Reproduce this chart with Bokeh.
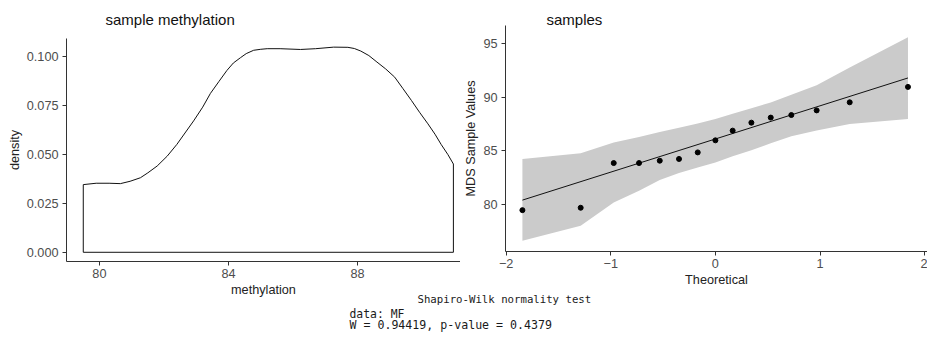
from bokeh.plotting import figure
from bokeh.layouts import row, column
from bokeh.models import Range1d, FixedTicker, NumeralTickFormatter, ColumnDataSource
from bokeh.core.properties import value
from bokeh.embed import file_html
from bokeh.resources import INLINE

# ---------------- data ----------------
# left panel: kernel density of methylation
dens_x = [79.5, 79.9, 80.3, 80.65, 80.95, 81.27, 81.5, 81.79, 82.1, 82.4, 82.92, 83.2,
          83.44, 83.7, 83.95, 84.15, 84.37, 84.55, 84.78, 85.0, 85.2, 85.6, 86.23, 86.7,
          87.26, 87.7, 87.9, 88.1, 88.35, 88.6, 88.87, 89.15, 89.4, 89.67, 89.92, 90.18,
          90.4, 90.59, 90.8, 90.97]
dens_y = [0.0345, 0.0352, 0.0352, 0.035, 0.0362, 0.038, 0.0405, 0.044, 0.049, 0.055, 0.067,
          0.074, 0.081, 0.087, 0.0927, 0.0965, 0.0992, 0.1013, 0.103, 0.1035, 0.1038, 0.1038,
          0.1034, 0.1038, 0.1046, 0.1045, 0.1039, 0.1026, 0.1003, 0.097, 0.0935, 0.0893,
          0.0836, 0.0774, 0.0714, 0.0655, 0.0602, 0.055, 0.0498, 0.045]
left_xticks = [80, 84, 88]
left_yticks = [0.0, 0.025, 0.05, 0.075, 0.1]

# right panel: QQ plot
theo = [-1.845, -1.288, -0.972, -0.73, -0.532, -0.348, -0.169, 0.0, 0.165, 0.344,
        0.529, 0.726, 0.968, 1.284, 1.841]
sample = [79.5, 79.72, 83.87, 83.87, 84.09, 84.25, 84.86, 85.98, 86.88, 87.62,
          88.09, 88.33, 88.76, 89.51, 90.94]
band_upper = [84.25, 84.77, 85.79, 86.3, 86.75, 87.15, 87.55, 87.96, 88.45, 88.95,
              89.5, 90.2, 91.1, 92.75, 95.55]
band_lower = [76.65, 78.05, 80.21, 81.3, 82.3, 82.95, 83.45, 83.93, 84.5, 85.05,
              85.7, 86.35, 86.9, 87.5, 87.96]
line_x = [-1.845, 1.841]
line_y = [80.43, 91.77]
right_xticks = [-2, -1, 0, 1, 2]
right_yticks = [80, 85, 90, 95]

titles = ["sample methylation", "samples"]
test_lines = ["Shapiro-Wilk normality test", "data: MF", "W = 0.94419, p-value = 0.4379"]

# ---------------- styling helpers ----------------
FONT = "Liberation Sans"
TICK_COL = "#4d4d4d"
LAB_COL = "#222222"


def style(p, xlab, ylab):
    p.xgrid.visible = False
    p.ygrid.visible = False
    p.outline_line_color = None
    p.background_fill_alpha = 0
    p.border_fill_alpha = 0
    for ax in (p.xaxis[0], p.yaxis[0]):
        ax.axis_line_color = "#333333"
        ax.axis_line_width = 1
        ax.major_tick_line_color = "#333333"
        ax.major_tick_in = 0
        ax.major_tick_out = 4
        ax.minor_tick_line_color = None
        ax.major_label_text_font = FONT
        ax.major_label_text_font_size = "12.7px"
        ax.major_label_text_color = TICK_COL
        ax.axis_label_text_font = FONT
        ax.axis_label_text_font_size = "12.7px"
        ax.axis_label_text_font_style = "normal"
        ax.axis_label_text_color = LAB_COL
    p.xaxis.axis_label = xlab
    p.yaxis.axis_label = ylab
    p.xaxis.major_label_standoff = 3
    p.xaxis.axis_label_standoff = 2
    p.yaxis.major_label_standoff = 4
    p.yaxis.axis_label_standoff = 2


def text_strip(width, height, margin):
    s = figure(width=width, height=height, output_backend="svg", toolbar_location=None,
               x_range=Range1d(0, width), y_range=Range1d(height, 0),
               min_border=0, margin=margin)
    s.axis.visible = False
    s.xgrid.visible = False
    s.ygrid.visible = False
    s.outline_line_color = None
    s.background_fill_alpha = 0
    s.border_fill_alpha = 0
    return s


# ---------------- top: panel titles ----------------
p0 = text_strip(927, 40, (0, 0, 0, 0))
tsrc = ColumnDataSource(dict(x=[105, 546], y=[19, 19], t=titles))
p0.text(x="x", y="y", text="t", source=tsrc, text_font=value(FONT), text_font_size="15px",
        text_baseline="middle", text_align="left", text_color="#111111")

# ---------------- left: density ----------------
p1 = figure(width=460, height=311, output_backend="svg", toolbar_location=None,
            x_range=Range1d(78.98, 91.19), y_range=Range1d(-0.0047, 0.109),
            min_border_left=66, min_border_right=0, min_border_top=38, min_border_bottom=50)
poly_x = [dens_x[0]] + dens_x + [dens_x[-1]]
poly_y = [0.0] + dens_y + [0.0]
p1.patch(poly_x, poly_y, fill_alpha=0, line_color="#111111", line_width=1)
style(p1, "methylation", "density")
p1.xaxis.ticker = FixedTicker(ticks=left_xticks)
p1.yaxis.ticker = FixedTicker(ticks=left_yticks)
p1.yaxis.formatter = NumeralTickFormatter(format="0.000")

# ---------------- right: QQ plot ----------------
p2 = figure(width=467, height=311, output_backend="svg", toolbar_location=None,
            x_range=Range1d(-2.0067, 2.0277), y_range=Range1d(75.66, 96.64),
            min_border_left=45, min_border_right=0, min_border_top=25, min_border_bottom=60)
p2.varea(x=theo, y1=band_lower, y2=band_upper, fill_color="#cbcbcb", fill_alpha=1)
p2.line(line_x, line_y, line_color="#111111", line_width=1)
p2.scatter(theo, sample, size=5, fill_color="black", line_color="black")
style(p2, "Theoretical", "MDS Sample Values")
p2.xaxis.ticker = FixedTicker(ticks=right_xticks)
p2.yaxis.ticker = FixedTicker(ticks=right_yticks)

# ---------------- bottom: test output text ----------------
p3 = text_strip(927, 54, (-21, 0, 0, 0))
src = ColumnDataSource(dict(x=[417, 349, 349], y=[9, 23, 34], t=test_lines,
                            fs=["10.7px", "11.4px", "11.6px"]))
p3.text(x="x", y="y", text="t", source=src, text_font=value("DejaVu Sans Mono"),
        text_font_size="fs", text_baseline="middle", text_align="left", text_color="#1a1a1a")

plots = row(column(p1), column(p2), margin=(-40, 0, 0, 0))
layout = column(p0, plots, p3)
open("out.html", "w").write(file_html(layout, INLINE))
